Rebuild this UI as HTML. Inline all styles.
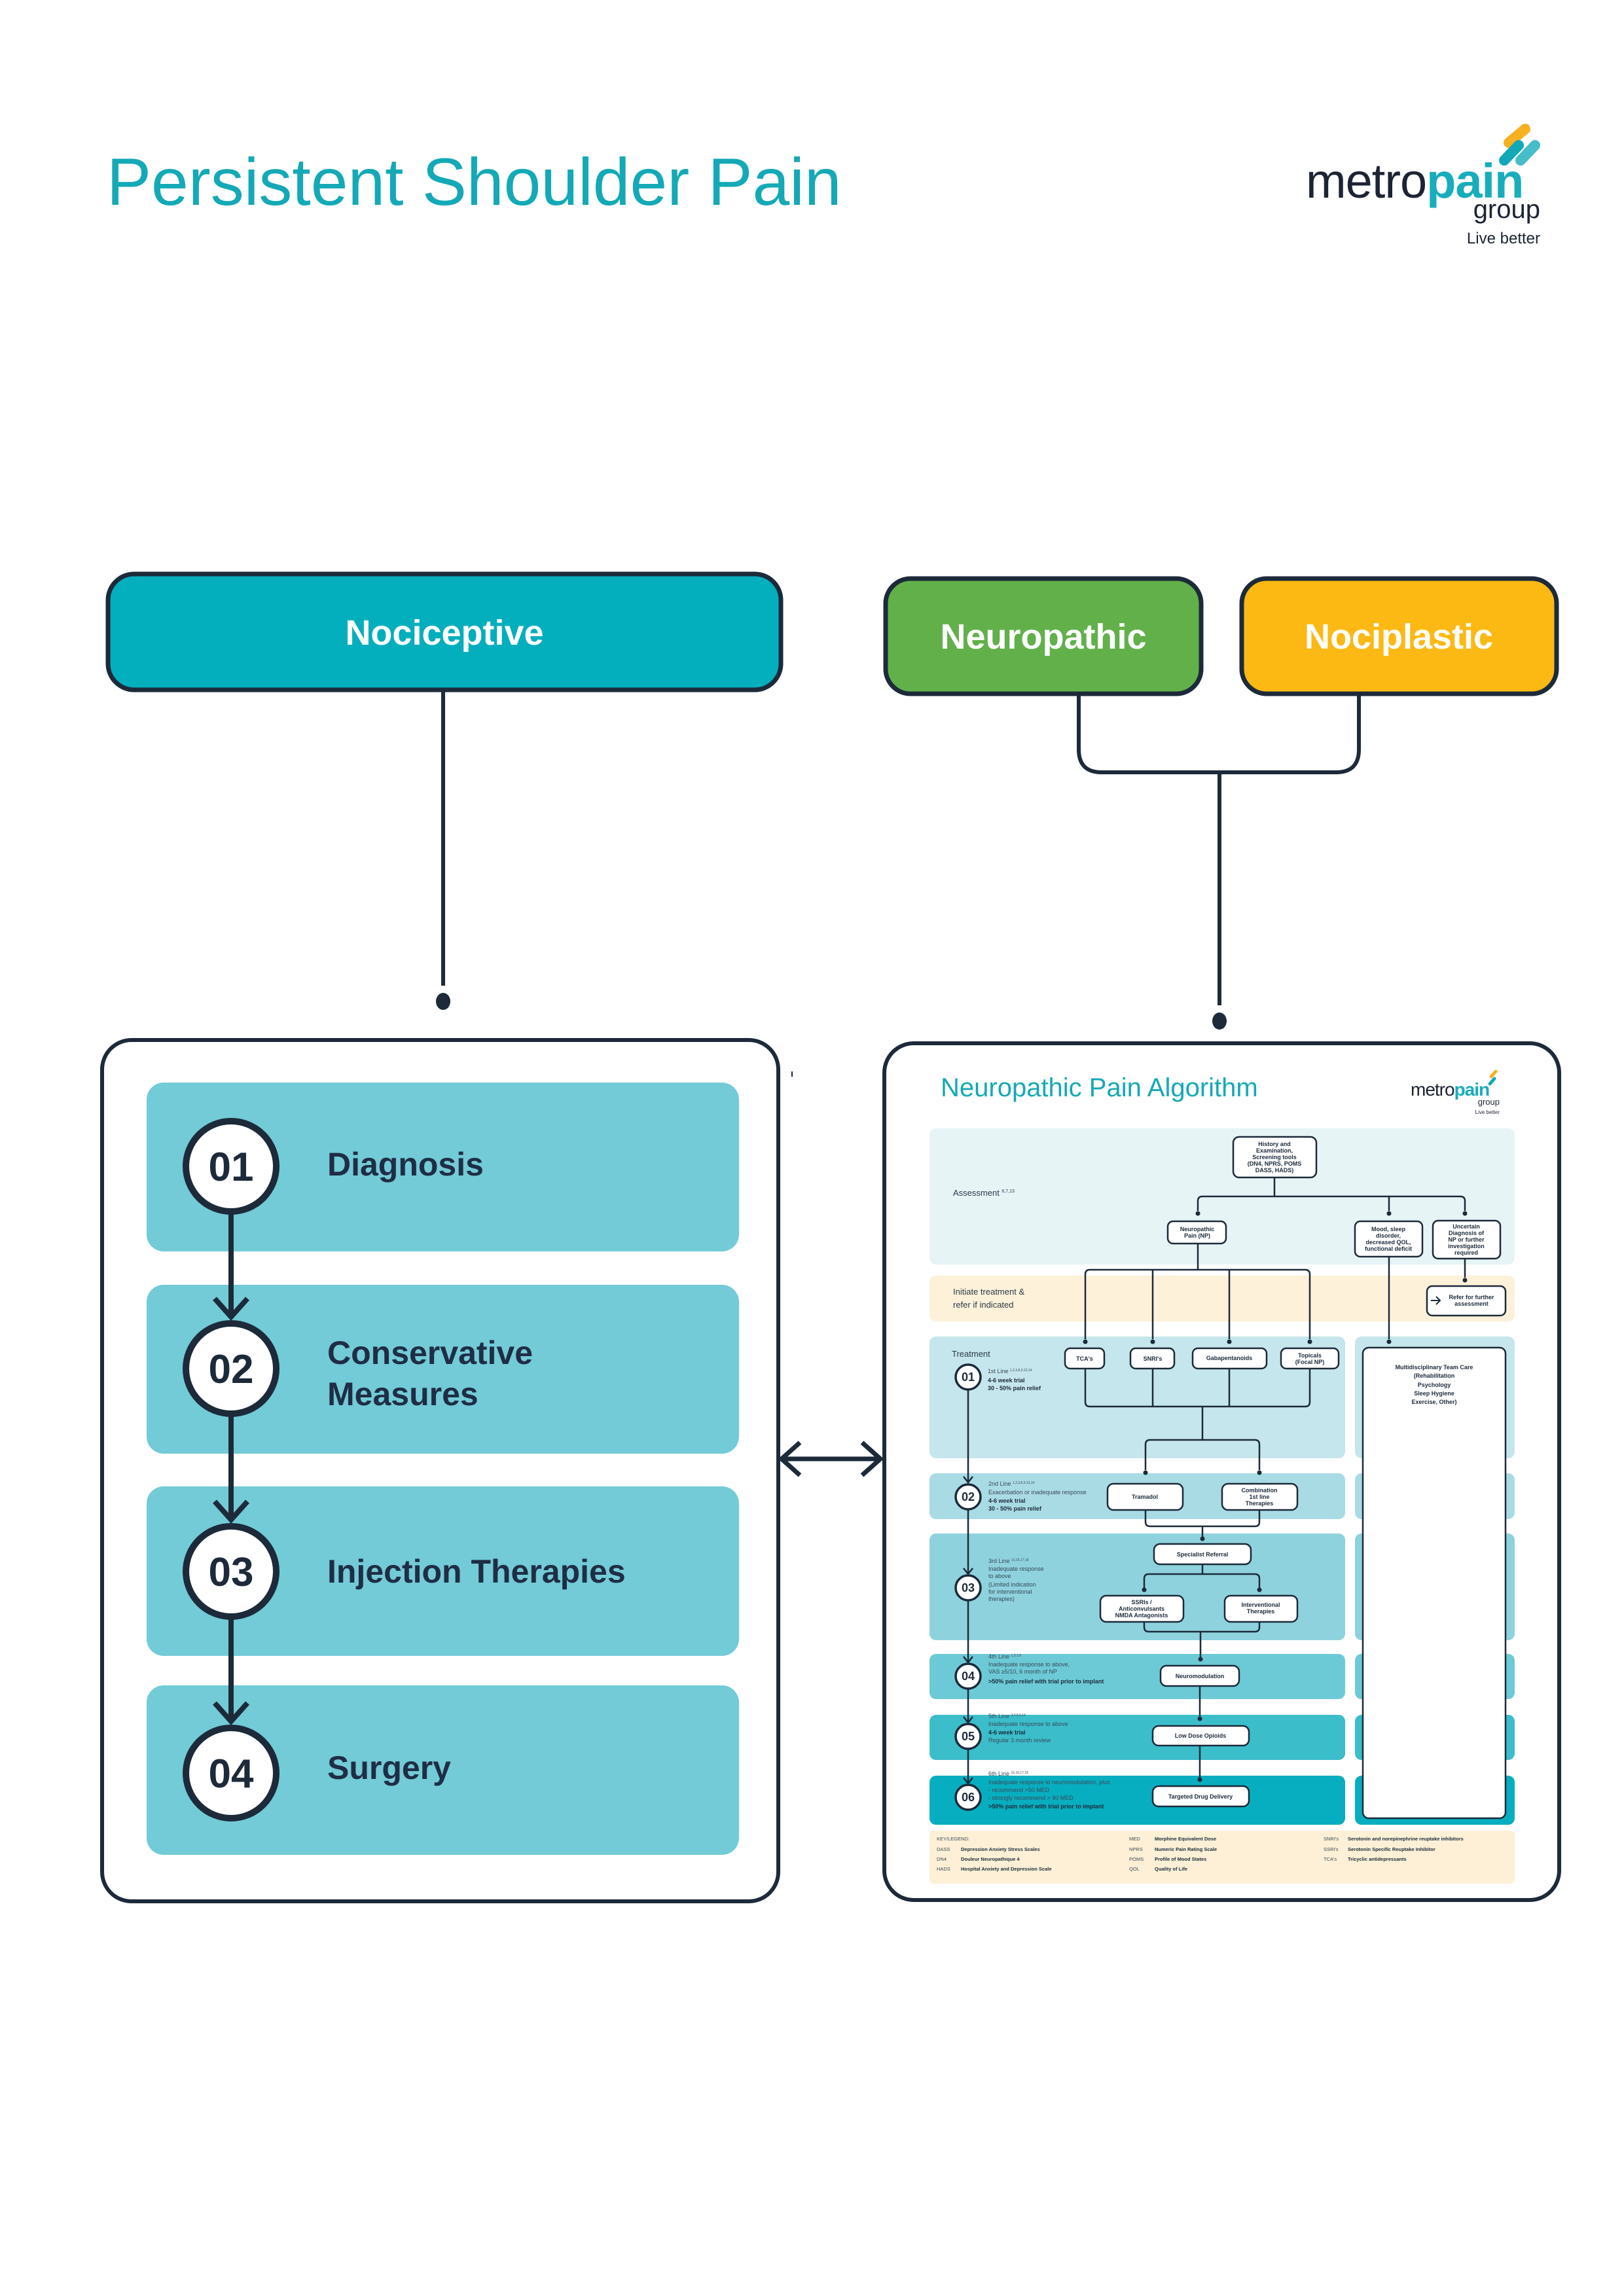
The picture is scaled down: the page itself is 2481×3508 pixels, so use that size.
<!DOCTYPE html>
<html><head><meta charset="utf-8"><style>
html,body{margin:0;padding:0;background:#fff}
svg{display:block}
text{font-family:"Liberation Sans",sans-serif}
</style></head><body>
<svg width="2481" height="3508" viewBox="0 0 2481 3508" xmlns="http://www.w3.org/2000/svg">
<!-- Title -->
<text x="163" y="313" font-size="102" fill="#14a9b6">Persistent Shoulder Pain</text>
<!-- Logo -->
<g>
<line x1="2330" y1="197" x2="2305" y2="218" stroke="#f7b020" stroke-width="16" stroke-linecap="round"/>
<line x1="2320" y1="222" x2="2298" y2="245" stroke="#13a8b7" stroke-width="16" stroke-linecap="round"/>
<line x1="2345" y1="222" x2="2323" y2="245" stroke="#47bdc9" stroke-width="16" stroke-linecap="round"/>
<text x="1995" y="302" font-size="74" fill="#1c2434" letter-spacing="-1">metro<tspan font-weight="bold" fill="#18adbb">pain</tspan></text>
<text x="2353" y="333" font-size="40" fill="#1c2434" text-anchor="end">group</text>
<text x="2353" y="372" font-size="24" fill="#1c2434" text-anchor="end">Live better</text>
</g>
<!-- Top boxes -->
<rect x="165" y="877" width="1028" height="177" rx="40" fill="#03aebd" stroke="#1c2a3a" stroke-width="7"/>
<text x="679" y="985" font-size="54" font-weight="bold" fill="#fff" text-anchor="middle">Nociceptive</text>
<rect x="1353" y="884" width="482" height="176" rx="38" fill="#62b04a" stroke="#1c2a3a" stroke-width="7"/>
<text x="1594" y="991" font-size="54" font-weight="bold" fill="#fff" text-anchor="middle">Neuropathic</text>
<rect x="1897" y="884" width="481" height="176" rx="38" fill="#fdb913" stroke="#1c2a3a" stroke-width="7"/>
<text x="2137" y="991" font-size="54" font-weight="bold" fill="#fff" text-anchor="middle">Nociplastic</text>
<!-- connectors -->
<g stroke="#1c2a3a" stroke-width="6" fill="none">
<line x1="677" y1="1057" x2="677" y2="1506"/>
<path d="M1648 1063 V1145 Q1648 1180 1683 1180 H2041 Q2076 1180 2076 1145 V1063"/>
<line x1="1863" y1="1180" x2="1863" y2="1536"/>
</g>
<ellipse cx="677" cy="1530" rx="11" ry="13" fill="#1c2a3a"/>
<ellipse cx="1863" cy="1560" rx="11" ry="13" fill="#1c2a3a"/>
<!-- Left panel -->
<rect x="156" y="1589" width="1033" height="1316" rx="45" fill="#fff" stroke="#1c2a3a" stroke-width="6"/>
<g fill="#72cbd6">
<rect x="224" y="1654" width="905" height="258" rx="26"/>
<rect x="224" y="1963" width="905" height="258" rx="26"/>
<rect x="224" y="2271" width="905" height="259" rx="26"/>
<rect x="224" y="2575" width="905" height="259" rx="26"/>
</g>
<g stroke="#1c2a3a" stroke-width="8" fill="none">
<line x1="353" y1="1855" x2="353" y2="2014"/>
<polyline points="328,1984 353,2012 378,1984"/>
<line x1="353" y1="2164" x2="353" y2="2324"/>
<polyline points="328,2294 353,2322 378,2294"/>
<line x1="353" y1="2474" x2="353" y2="2632"/>
<polyline points="328,2602 353,2630 378,2602"/>
</g>
<g fill="#fff" stroke="#1c2a3a" stroke-width="10">
<circle cx="353" cy="1782" r="69"/>
<circle cx="353" cy="2091" r="69"/>
<circle cx="353" cy="2401" r="69"/>
<circle cx="353" cy="2709" r="69"/>
</g>
<g font-size="62" font-weight="bold" fill="#1c2a3a" text-anchor="middle">
<text x="353" y="1804">01</text><text x="353" y="2113">02</text><text x="353" y="2423">03</text><text x="353" y="2731">04</text>
</g>
<g font-size="50" font-weight="bold" fill="#1f2d45">
<text x="500" y="1796">Diagnosis</text>
<text x="500" y="2084">Conservative</text>
<text x="500" y="2147">Measures</text>
<text x="500" y="2418">Injection Therapies</text>
<text x="500" y="2718">Surgery</text>
</g>
<line x1="1210" y1="1637" x2="1210" y2="1645" stroke="#1c2a3a" stroke-width="2"/>
<!-- double arrow -->
<g stroke="#1c2a3a" stroke-width="7" fill="none">
<line x1="1196" y1="2229" x2="1343" y2="2229"/>
<polyline points="1222,2204 1194,2229 1222,2254"/>
<polyline points="1317,2204 1345,2229 1317,2254"/>
</g>
<!-- Right panel -->
<rect x="1351" y="1594" width="1031" height="1309" rx="45" fill="#fff" stroke="#1c2a3a" stroke-width="6"/>
<text x="1437" y="1675" font-size="40" fill="#14a9b6">Neuropathic Pain Algorithm</text>
<line x1="2285" y1="1637" x2="2278" y2="1645" stroke="#f7b020" stroke-width="5" stroke-linecap="round"/>
<line x1="2283" y1="1648" x2="2276" y2="1656" stroke="#13a8b7" stroke-width="5" stroke-linecap="round"/>
<text x="2155" y="1674" font-size="28" fill="#1c2434" letter-spacing="-1">metro<tspan font-weight="bold" fill="#18adbb">pain</tspan></text>
<text x="2291" y="1688" font-size="13" fill="#1c2434" text-anchor="end">group</text>
<text x="2291" y="1702" font-size="8" fill="#1c2434" text-anchor="end">Live better</text>
<!-- bands -->
<rect x="1420" y="1724" width="894" height="208" rx="10" fill="#e6f4f6"/>
<rect x="1420" y="1949" width="894" height="70" rx="10" fill="#fdf1d9"/>
<rect x="1420" y="2042" width="635" height="186" rx="10" fill="#c5e6ec"/>
<rect x="2070" y="2042" width="244" height="186" rx="10" fill="#c5e6ec"/>
<rect x="1420" y="2251" width="635" height="70" rx="10" fill="#a9dbe4"/>
<rect x="2070" y="2251" width="244" height="70" rx="10" fill="#a9dbe4"/>
<rect x="1420" y="2343" width="635" height="163" rx="10" fill="#8ed2dd"/>
<rect x="2070" y="2343" width="244" height="163" rx="10" fill="#8ed2dd"/>
<rect x="1420" y="2527" width="635" height="69" rx="10" fill="#6ccad6"/>
<rect x="2070" y="2527" width="244" height="69" rx="10" fill="#6ccad6"/>
<rect x="1420" y="2620" width="635" height="69" rx="10" fill="#3bbdca"/>
<rect x="2070" y="2620" width="244" height="69" rx="10" fill="#3bbdca"/>
<rect x="1420" y="2713" width="635" height="75" rx="10" fill="#07aebf"/>
<rect x="2070" y="2713" width="244" height="75" rx="10" fill="#07aebf"/>
<rect x="1420" y="2797" width="894" height="81" rx="6" fill="#fdf0d6"/>
<!-- connectors mini -->
<g stroke="#1c2a3a" stroke-width="2.5" fill="none">
<line x1="1947" y1="1799" x2="1947" y2="1828"/>
<path d="M1830 1850 V1835 Q1830 1828 1837 1828 H2231 Q2238 1828 2238 1835 V1850"/>
<line x1="2122" y1="1828" x2="2122" y2="1850"/>
<line x1="1830" y1="1900" x2="1830" y2="1940"/>
<path d="M1658 2046 V1947 Q1658 1940 1665 1940 H1994 Q2001 1940 2001 1947 V2046"/>
<line x1="1761" y1="1940" x2="1761" y2="2046"/>
<line x1="1878" y1="1940" x2="1878" y2="2046"/>
<line x1="2122" y1="1920" x2="2122" y2="2046"/>
<line x1="2238" y1="1923" x2="2238" y2="1952"/>
<path d="M1658 2091 V2142 Q1658 2149 1665 2149 H1994 Q2001 2149 2001 2142 V2091"/>
<line x1="1761" y1="2091" x2="1761" y2="2149"/>
<line x1="1878" y1="2091" x2="1878" y2="2149"/>
<line x1="1837" y1="2149" x2="1837" y2="2200"/>
<path d="M1750 2246 V2207 Q1750 2200 1757 2200 H1917 Q1924 2200 1924 2207 V2246"/>
<path d="M1750 2307 V2325 Q1750 2332 1757 2332 H1917 Q1924 2332 1924 2325 V2307"/>
<line x1="1837" y1="2332" x2="1837" y2="2350"/>
<line x1="1837" y1="2390" x2="1837" y2="2405"/>
<path d="M1748 2426 V2412 Q1748 2405 1755 2405 H1917 Q1924 2405 1924 2412 V2426"/>
<path d="M1748 2478 V2486 Q1748 2493 1755 2493 H1917 Q1924 2493 1924 2486 V2478"/>
<line x1="1834" y1="2493" x2="1834" y2="2533"/>
<line x1="1833" y1="2576" x2="1833" y2="2624"/>
<line x1="1833" y1="2667" x2="1833" y2="2717"/>
<line x1="1479" y1="2124" x2="1479" y2="2264"/>
<line x1="1479" y1="2307" x2="1479" y2="2404"/>
<line x1="1479" y1="2446" x2="1479" y2="2539"/>
<line x1="1479" y1="2581" x2="1479" y2="2631"/>
<line x1="1479" y1="2673" x2="1479" y2="2724"/>
<polyline points="1472,2256 1479,2265 1486,2256"/>
<polyline points="1472,2396 1479,2405 1486,2396"/>
<polyline points="1472,2531 1479,2540 1486,2531"/>
<polyline points="1472,2623 1479,2632 1486,2623"/>
<polyline points="1472,2716 1479,2725 1486,2716"/>
</g>
<g fill="#1c2a3a">
<circle cx="1830" cy="1854" r="3.5"/><circle cx="2122" cy="1854" r="3.5"/><circle cx="2238" cy="1854" r="3.5"/>
<circle cx="2238" cy="1956" r="3.5"/>
<circle cx="1658" cy="2050" r="3.5"/><circle cx="1761" cy="2050" r="3.5"/><circle cx="1878" cy="2050" r="3.5"/><circle cx="2001" cy="2050" r="3.5"/><circle cx="2122" cy="2050" r="3.5"/>
<circle cx="1750" cy="2250" r="3.5"/><circle cx="1924" cy="2250" r="3.5"/>
<circle cx="1837" cy="2351" r="3.5"/><circle cx="1748" cy="2429" r="3.5"/><circle cx="1924" cy="2429" r="3.5"/>
<circle cx="1834" cy="2535" r="3.5"/><circle cx="1833" cy="2626" r="3.5"/><circle cx="1833" cy="2719" r="3.5"/>
</g>
<!-- mini boxes -->
<g fill="#fff" stroke="#1c2a3a" stroke-width="2.5">
<rect x="1884" y="1737" width="127" height="62" rx="9"/>
<rect x="1784" y="1866" width="89" height="34" rx="8"/>
<rect x="2070" y="1866" width="103" height="54" rx="8"/>
<rect x="2189" y="1865" width="103" height="58" rx="8"/>
<rect x="2180" y="1965" width="120" height="45" rx="8"/>
<rect x="1627" y="2060" width="60" height="31" rx="8"/>
<rect x="1727" y="2060" width="67" height="31" rx="8"/>
<rect x="1822" y="2060" width="113" height="31" rx="8"/>
<rect x="1957" y="2060" width="88" height="31" rx="8"/>
<rect x="2082" y="2059" width="218" height="719" rx="9"/>
<rect x="1692" y="2267" width="115" height="40" rx="9"/>
<rect x="1867" y="2267" width="115" height="40" rx="9"/>
<rect x="1763" y="2359" width="148" height="31" rx="9"/>
<rect x="1681" y="2438" width="127" height="40" rx="9"/>
<rect x="1871" y="2438" width="111" height="40" rx="9"/>
<rect x="1773" y="2545" width="120" height="31" rx="9"/>
<rect x="1761" y="2637" width="147" height="30" rx="9"/>
<rect x="1761" y="2729" width="147" height="31" rx="9"/>
</g>
<g font-size="9" font-weight="bold" fill="#1c2a3a" text-anchor="middle">
<text x="1947" y="1751">History and</text><text x="1947" y="1761">Examination,</text><text x="1947" y="1771">Screening tools</text><text x="1947" y="1781">(DN4, NPRS, POMS</text><text x="1947" y="1791">DASS, HADS)</text>
<text x="1829" y="1881">Neuropathic</text><text x="1829" y="1891">Pain (NP)</text>
<text x="2121" y="1881">Mood, sleep</text><text x="2121" y="1891">disorder,</text><text x="2121" y="1901">decreased QOL,</text><text x="2121" y="1911">functional deficit</text>
<text x="2240" y="1877">Uncertain</text><text x="2240" y="1887">Diagnosis of</text><text x="2240" y="1897">NP or further</text><text x="2240" y="1907">investigation</text><text x="2240" y="1917">required</text>
<text x="2248" y="1985">Refer for further</text><text x="2248" y="1995">assessment</text>
<text x="1657" y="2079">TCA's</text><text x="1761" y="2079">SNRI's</text><text x="1878" y="2078">Gabapentanoids</text>
<text x="2001" y="2074">Topicals</text><text x="2001" y="2084">(Focal NP)</text>
<text x="2191" y="2092">Multidisciplinary Team Care</text><text x="2191" y="2105">(Rehabilitation</text><text x="2191" y="2119">Psychology</text><text x="2191" y="2132">Sleep Hygiene</text><text x="2191" y="2145">Exercise, Other)</text>
<text x="1749" y="2290">Tramadol</text>
<text x="1924" y="2280">Combination</text><text x="1924" y="2290">1st line</text><text x="1924" y="2300">Therapies</text>
<text x="1837" y="2378">Specialist Referral</text>
<text x="1744" y="2451">SSRIs /</text><text x="1744" y="2461">Anticonvulsants</text><text x="1744" y="2471">NMDA Antagonists</text>
<text x="1926" y="2455">Interventional</text><text x="1926" y="2465">Therapies</text>
<text x="1833" y="2564">Neuromodulation</text>
<text x="1834" y="2655">Low Dose Opioids</text>
<text x="1834" y="2748">Targeted Drug Delivery</text>
</g>
<path d="M2186 1987 H2200 M2194 1981 L2200 1987 L2194 1993" stroke="#1c2a3a" stroke-width="2" fill="none"/>
<g font-size="13" fill="#2a3a4a">
<text x="1456" y="1827">Assessment <tspan font-size="7" dy="-5">6,7,13</tspan></text>
<text x="1456" y="1978">Initiate treatment &amp;</text>
<text x="1456" y="1998">refer if indicated</text>
<text x="1454" y="2073">Treatment</text>
</g>
<!-- line circles -->
<g fill="#fff" stroke="#1c2a3a" stroke-width="3.5">
<circle cx="1479" cy="2104" r="19"/><circle cx="1479" cy="2287" r="19"/><circle cx="1479" cy="2426" r="19"/>
<circle cx="1479" cy="2561" r="19"/><circle cx="1479" cy="2653" r="19"/><circle cx="1479" cy="2746" r="19"/>
</g>
<g font-size="18" font-weight="bold" fill="#1c2a3a" text-anchor="middle">
<text x="1479" y="2110">01</text><text x="1479" y="2293">02</text><text x="1479" y="2432">03</text><text x="1479" y="2567">04</text><text x="1479" y="2659">05</text><text x="1479" y="2752">06</text>
</g>
<g font-size="9" fill="#3a4a5a">
<text x="1509" y="2098">1st Line <tspan font-size="5" dy="-3">1,2,3,8,9,13,14</tspan></text>
<text x="1509" y="2112" font-weight="bold" fill="#1c2a3a">4-6 week trial</text>
<text x="1509" y="2124" font-weight="bold" fill="#1c2a3a">30 - 50% pain relief</text>
<text x="1510" y="2270">2nd Line <tspan font-size="5" dy="-3">1,2,3,8,9,13,14</tspan></text>
<text x="1510" y="2283">Exacerbation or inadequate response</text>
<text x="1510" y="2296" font-weight="bold" fill="#1c2a3a">4-6 week trial</text>
<text x="1510" y="2308" font-weight="bold" fill="#1c2a3a">30 - 50% pain relief</text>
<text x="1510" y="2388">3rd Line <tspan font-size="5" dy="-3">13,16,17,18</tspan></text>
<text x="1510" y="2400">Inadequate response</text>
<text x="1510" y="2411">to above</text>
<text x="1510" y="2424">(Limited indication</text>
<text x="1510" y="2435">for interventional</text>
<text x="1510" y="2446">therapies)</text>
<text x="1510" y="2534">4th Line <tspan font-size="5" dy="-3">1,3,7,8</tspan></text>
<text x="1510" y="2546">Inadequate response to above,</text>
<text x="1510" y="2557">VAS ≥5/10, 6 month of NP</text>
<text x="1510" y="2572" font-weight="bold" fill="#1c2a3a">&gt;50% pain relief with trial prior to implant</text>
<text x="1510" y="2625">5th Line <tspan font-size="5" dy="-3">3,4,8,9,14</tspan></text>
<text x="1510" y="2637">Inadequate response to above</text>
<text x="1510" y="2650" font-weight="bold" fill="#1c2a3a">4-6 week trial</text>
<text x="1510" y="2662">Regular 3 month review</text>
<text x="1510" y="2713">6th Line <tspan font-size="5" dy="-3">15,16,17,18</tspan></text>
<text x="1510" y="2726">Inadequate response to neuromodulation, plus</text>
<text x="1510" y="2738">- recommend &gt;50 MED</text>
<text x="1510" y="2750">- strongly recommend &gt; 90 MED</text>
<text x="1510" y="2763" font-weight="bold" fill="#1c2a3a">&gt;50% pain relief with trial prior to implant</text>
</g>
<!-- legend -->
<g font-size="7.5" fill="#3a4a5a">
<text x="1431" y="2812">KEY/LEGEND:</text>
<text x="1431" y="2828">DASS</text><text x="1431" y="2843">DN4</text><text x="1431" y="2858">HADS</text>
<text x="1725" y="2812">MED</text><text x="1725" y="2828">NPRS</text><text x="1725" y="2843">POMS</text><text x="1725" y="2858">QOL</text>
<text x="2022" y="2812">SNRI's</text><text x="2022" y="2828">SSRI's</text><text x="2022" y="2843">TCA's</text>
</g>
<g font-size="7.5" font-weight="bold" fill="#1c2a3a">
<text x="1468" y="2828">Depression Anxiety Stress Scales</text>
<text x="1468" y="2843">Douleur Neuropathique 4</text>
<text x="1468" y="2858">Hospital Anxiety and Depression Scale</text>
<text x="1764" y="2812">Morphine Equivalent Dose</text>
<text x="1764" y="2828">Numeric Pain Rating Scale</text>
<text x="1764" y="2843">Profile of Mood States</text>
<text x="1764" y="2858">Quality of Life</text>
<text x="2059" y="2812">Serotonin and norepinephrine reuptake inhibitors</text>
<text x="2059" y="2828">Serotonin Specific Reuptake Inhibitor</text>
<text x="2059" y="2843">Tricyclic antidepressants</text>
</g>
</svg>
</body></html>
